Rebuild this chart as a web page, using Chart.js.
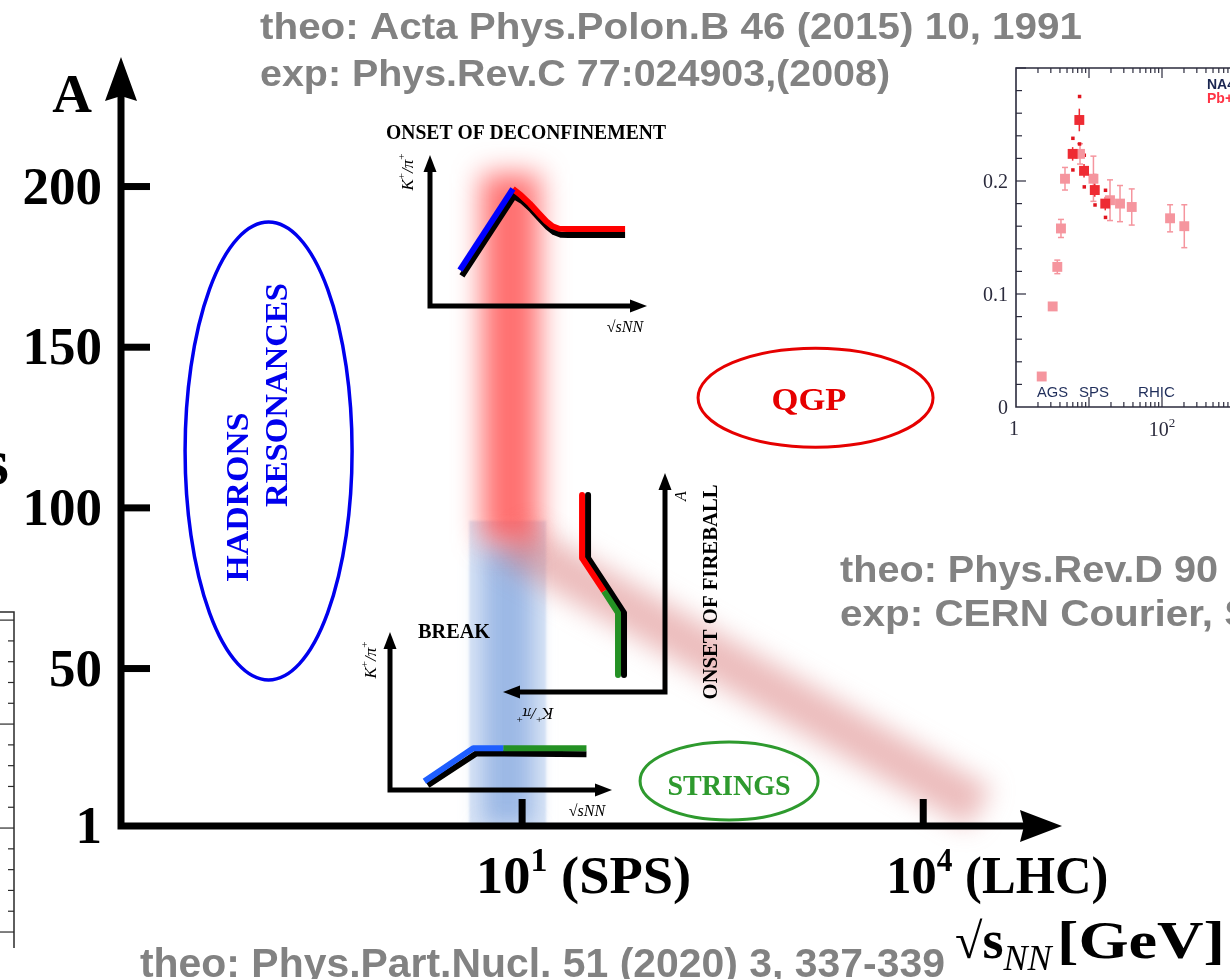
<!DOCTYPE html>
<html>
<head>
<meta charset="utf-8">
<script src="https://cdn.jsdelivr.net/npm/chart.js@4/dist/chart.umd.min.js"></script>
<style>
html, body { margin: 0; padding: 0; background: #fff; overflow: hidden; width: 1230px; height: 979px; }
body { position: relative; }
canvas { position: absolute; display: block; }
</style>
</head>
<body>
<canvas id="main" width="1230" height="979" style="left:0;top:0"></canvas>
<canvas id="edge"></canvas>
<canvas id="kpi"></canvas>
<canvas id="deconf"></canvas>
<canvas id="brk"></canvas>
<canvas id="fire"></canvas>
<script>
// ---- main diagram: A vs sqrt(s_NN) ----
var yTickValues = [1, 50, 100, 150, 200];
var xTickValues = [10, 10000];
var xTickExps = ['1', '4'];
var xTickNames = ['(SPS)', '(LHC)'];

// blurred bands (energy in GeV, mass number A)
var redBandE = [8.2, 8.2];
var redBandA = [89, 204];
var blueBandE = [7.8, 7.8];
var blueBandA = [1, 96];
var blueCoreA = [1, 88];
var fireballE = [8.1, 26600];
var fireballA = [90, 6.6];

// phase regions (centres)
var regionE = [0.127, 1565, 353];
var regionA = [117.7, 134.3, 15];

// ---- schematic insets (arbitrary units 0..10) ----
var deconfBlueX = [1.38, 3.82];
var deconfBlueY = [2.38, 7.75];
var deconfRedX = [3.82, 4.2, 4.6, 5.0, 5.35, 5.65, 5.95, 6.3, 8.99];
var deconfRedY = [7.75, 7.32, 6.78, 6.15, 5.62, 5.28, 5.12, 5.10, 5.10];
var deconfShadowX = [1.47, 3.87, 4.28, 4.68, 5.08, 5.43, 5.73, 6.03, 6.38, 8.99];
var deconfShadowY = [1.99, 7.28, 6.92, 6.38, 5.75, 5.22, 4.88, 4.72, 4.70, 4.70];

var breakBlueX = [1.55, 3.75, 5.1];
var breakBlueY = [0.55, 2.65, 2.65];
var breakGreenX = [5.1, 8.85];
var breakGreenY = [2.65, 2.65];
var breakShadowX = [1.7, 3.9, 8.85];
var breakShadowY = [0.3, 2.32, 2.27];

var fireRedX = [5.12, 5.12, 3.77];
var fireRedY = [9.0, 6.12, 4.61];
var fireGreenX = [3.77, 2.9, 2.9];
var fireGreenY = [4.61, 3.61, 0.78];
var fireShadowX = [4.75, 4.75, 3.4, 2.53, 2.53];
var fireShadowY = [9.0, 6.12, 4.61, 3.61, 0.78];

// ---- K+/pi+ data inset ----
var otherE = [2.25, 3.18, 3.68, 4.13, 4.69, 7.53, 11.5, 19.4, 26.6, 38.5, 129, 202];
var otherK = [0.027, 0.089, 0.124, 0.158, 0.202, 0.224, 0.202, 0.183, 0.180, 0.177, 0.167, 0.160];
var otherErr = [0, 0, 0.006, 0.008, 0.010, 0.009, 0.020, 0.018, 0.016, 0.016, 0.012, 0.019];
var na49E = [5.97, 7.37, 8.55, 12.0, 16.7];
var na49K = [0.224, 0.254, 0.209, 0.192, 0.180];
var na49Stat = [0.006, 0.010, 0.006, 0.006, 0.006];
var na49Sys = [0.014, 0.021, 0.014, 0.013, 0.012];
var kpiYLabels = [0, 0.1, 0.2];

var B = function (s) { return 'bold ' + s + 'px "Liberation Serif"'; };
var I = function (s) { return 'italic ' + s + 'px "Liberation Serif"'; };
var R = function (s) { return s + 'px "Liberation Serif"'; };
var GREY = 'bold 36px "Liberation Sans"';

function xy(xs, ys) {
	return xs.map(function (x, i) { return {x: x, y: ys[i]}; });
}

function line(ctx, x1, y1, x2, y2) {
	ctx.beginPath();
	ctx.moveTo(x1, y1);
	ctx.lineTo(x2, y2);
	ctx.stroke();
}

// draw a list of text pieces one after the other
function runs(ctx, parts, x, y, o) {
	o = o || {};
	ctx.save();
	ctx.translate(x, y);
	if (o.rot) ctx.rotate(o.rot);
	var total = 0;
	parts.forEach(function (p) {
		ctx.font = p.font;
		p.w = ctx.measureText(p.t).width;
		total += p.w;
	});
	var fit = o.fitWidth || total;
	if (o.width) ctx.scale(o.width / fit, 1);
	var start = o.align === 'center' ? -total / 2 : (o.align === 'right' ? -total : 0);
	ctx.textAlign = 'left';
	ctx.textBaseline = o.base || 'alphabetic';
	parts.forEach(function (p) {
		ctx.font = p.font;
		ctx.fillStyle = p.color || o.color || '#000';
		ctx.fillText(p.t, start, p.dy || 0);
		start += p.w;
	});
	ctx.restore();
}

function text(ctx, s, font, x, y, o) {
	runs(ctx, [{t: s, font: font}], x, y, o);
}

function kpiRuns(size, italic) {
	var f = italic ? I(size) : R(size);
	var s = R(Math.round(size * 0.65));
	var up = -size * 0.4;
	return [{t: 'K', font: f}, {t: '+', font: s, dy: up}, {t: '/π', font: f}, {t: '+', font: s, dy: up}];
}

function sqrtRuns(size) {
	return [{t: '√', font: R(size)}, {t: 'sNN', font: I(size)}];
}

var blurPlugin = {
	id: 'blurBands',
	beforeDatasetDraw: function (chart, args) {
		var b = chart.data.datasets[args.index].blur;
		if (b) {
			chart.ctx.save();
			chart.ctx.filter = 'blur(' + b + 'px)';
		}
	},
	afterDatasetDraw: function (chart, args) {
		if (chart.data.datasets[args.index].blur) chart.ctx.restore();
	}
};

var regionStyle = [
	{rx: 83.5, ry: 229, color: '#0000ee', lw: 3.5},
	{rx: 117.5, ry: 49.5, color: '#e60000', lw: 3},
	{rx: 89, ry: 39, color: '#2e9a2e', lw: 3}
];

var mainAxes = {
	id: 'mainAxes',
	afterDatasetsDraw: function (chart) {
		var ctx = chart.ctx, a = chart.chartArea, xs = chart.scales.x, ys = chart.scales.y;
		ctx.save();
		ctx.fillStyle = '#000';
		ctx.strokeStyle = '#000';
		ctx.lineWidth = 7;
		ctx.lineJoin = 'miter';
		ctx.beginPath();
		ctx.moveTo(a.left, a.top + 38);
		ctx.lineTo(a.left, a.bottom);
		ctx.lineTo(a.right - 36, a.bottom);
		ctx.stroke();
		// arrow heads
		ctx.beginPath();
		ctx.moveTo(a.left, a.top - 1);
		ctx.lineTo(a.left - 16, a.top + 43);
		ctx.lineTo(a.left, a.top + 38);
		ctx.lineTo(a.left + 16, a.top + 43);
		ctx.closePath();
		ctx.fill();
		ctx.beginPath();
		ctx.moveTo(a.right + 2, a.bottom);
		ctx.lineTo(a.right - 40, a.bottom - 16);
		ctx.lineTo(a.right - 36, a.bottom);
		ctx.lineTo(a.right - 40, a.bottom + 16);
		ctx.closePath();
		ctx.fill();

		// ticks and tick labels
		yTickValues.forEach(function (v) {
			var py = ys.getPixelForValue(v);
			if (v !== 1) ctx.fillRect(a.left, py - 3.5, 29, 7);
			text(ctx, String(v), B(53), a.left - 19, py + 17, {align: 'right'});
		});
		var shift = [-46, -37], widths = [215, 222];
		xTickValues.forEach(function (v, i) {
			var px = xs.getPixelForValue(v);
			ctx.fillRect(px - 3.5, a.bottom - 27, 7, 27);
			runs(ctx, [{t: '10', font: B(53)}, {t: xTickExps[i], font: B(33), dy: -22}, {t: ' ' + xTickNames[i], font: B(53)}],
				px + shift[i], a.bottom + 67, {width: widths[i]});
		});

		// axis titles
		text(ctx, 'A', B(55), a.left - 49, a.top + 54, {align: 'center'});
		runs(ctx, [{t: '√', font: B(50)}, {t: 's', font: B(54)}, {t: 'NN', font: I(36), dy: 12}], 955, 958);
		text(ctx, '[GeV]', B(52), 1057, 958, {width: 168});

		// phase regions
		regionE.forEach(function (e, i) {
			var st = regionStyle[i];
			ctx.beginPath();
			ctx.ellipse(xs.getPixelForValue(e), ys.getPixelForValue(regionA[i]), st.rx, st.ry, 0, 0, Math.PI * 2);
			ctx.lineWidth = st.lw;
			ctx.strokeStyle = st.color;
			ctx.stroke();
		});
		text(ctx, 'HADRONS', B(32), 240, 497, {align: 'center', rot: -Math.PI / 2, base: 'middle', width: 169, color: '#0000ee'});
		text(ctx, 'RESONANCES', B(32), 279, 395, {align: 'center', rot: -Math.PI / 2, base: 'middle', width: 224, color: '#0000ee'});
		text(ctx, 'QGP', B(32), 809, 410, {align: 'center', width: 75, color: '#e60000'});
		text(ctx, 'STRINGS', B(30), 729, 795, {align: 'center', width: 123, color: '#2e9a2e'});

		// references
		text(ctx, 'theo: Acta Phys.Polon.B 46 (2015) 10, 1991', GREY, 260, 39, {width: 822, color: '#828282'});
		text(ctx, 'exp: Phys.Rev.C 77:024903,(2008)', GREY, 260, 86, {width: 630, color: '#828282'});
		text(ctx, 'theo: Phys.Rev.D 90', GREY, 840, 582, {width: 378, color: '#828282'});
		ctx.font = GREY;
		var w4 = ctx.measureText('exp: CERN Courier,').width;
		text(ctx, 'exp: CERN Courier, S', GREY, 840, 626, {width: 373, fitWidth: w4, color: '#828282'});
		text(ctx, 'theo: Phys.Part.Nucl. 51 (2020) 3, 337-339', 'bold 40px "Liberation Sans"', 140, 977, {width: 805, color: '#828282'});

		// clipped letter from the neighbouring panel
		text(ctx, 's', B(66), 9, 484, {align: 'right'});
		ctx.restore();
	}
};

new Chart(document.getElementById('main'), {
	type: 'line',
	data: {
		datasets: [
			{data: xy(redBandE, redBandA), borderColor: 'rgba(255,70,70,0.78)', borderWidth: 58, blur: 14, clip: false},
			{data: xy(fireballE, fireballA), borderColor: 'rgba(215,115,115,0.48)', borderWidth: 46, blur: 13, clip: false},
			{data: xy(blueBandE, blueCoreA), borderColor: 'rgba(115,155,218,0.6)', borderWidth: 50, blur: 11, clip: 0},
			{data: xy(blueBandE, blueBandA), borderColor: 'rgba(214,226,245,0.9)', borderWidth: 77, blur: 1, clip: 0}
		]
	},
	options: {
		responsive: false,
		animation: false,
		events: [],
		layout: {padding: {left: 121, right: 170, top: 58, bottom: 153}},
		plugins: {legend: {display: false}, tooltip: {enabled: false}},
		elements: {point: {radius: 0}, line: {borderCapStyle: 'butt', tension: 0, fill: false}},
		scales: {
			x: {type: 'logarithmic', min: 0.01, max: 105400, display: false},
			y: {type: 'linear', min: 1, max: 240, display: false}
		}
	},
	plugins: [blurPlugin, mainAxes]
});

// ---- partial frame of the neighbouring panel at the left edge ----
var edgeFrame = {
	id: 'edgeFrame',
	afterDraw: function (chart) {
		var ctx = chart.ctx, a = chart.chartArea, ys = chart.scales.y;
		ctx.save();
		ctx.strokeStyle = '#2a2a2a';
		ctx.lineWidth = 1.5;
		ctx.beginPath();
		ctx.moveTo(0, a.top);
		ctx.lineTo(a.right, a.top);
		ctx.lineTo(a.right, a.bottom + 6);
		ctx.stroke();
		ctx.lineWidth = 1.2;
		for (var v = 0; v <= 15; v++) {
			var py = ys.getPixelForValue(v);
			line(ctx, a.right, py, a.right - (v % 5 === 0 ? 14 : 6), py);
		}
		ctx.restore();
	}
};
(function () {
	var cv = document.getElementById('edge');
	cv.width = 40; cv.height = 360;
	cv.style.left = '0px'; cv.style.top = '600px';
	new Chart(cv, {
		type: 'scatter',
		data: {datasets: []},
		options: {
			responsive: false, animation: false, events: [],
			layout: {padding: {left: 0, right: 26, top: 12, bottom: 18}},
			plugins: {legend: {display: false}, tooltip: {enabled: false}},
			scales: {x: {min: 0, max: 1, display: false}, y: {min: -0.48, max: 15.39, display: false}}
		},
		plugins: [edgeFrame]
	});
})();

// ---- schematic insets ----
var insetCfg = {};

var arrowAxes = {
	id: 'arrowAxes',
	beforeDatasetsDraw: function (chart) {
		var cfg = insetCfg[chart.canvas.id];
		var ctx = chart.ctx, a = chart.chartArea;
		var ax = cfg.yRight ? a.right : a.left;
		var tipX = cfg.yRight ? a.left : a.right;
		var dir = cfg.yRight ? -1 : 1;
		ctx.save();
		ctx.strokeStyle = '#000';
		ctx.fillStyle = '#000';
		ctx.lineWidth = 5;
		ctx.lineJoin = 'miter';
		ctx.beginPath();
		ctx.moveTo(ax, a.top + 14);
		ctx.lineTo(ax, a.bottom);
		ctx.lineTo(tipX - dir * 14, a.bottom);
		ctx.stroke();
		ctx.beginPath();
		ctx.moveTo(ax, a.top);
		ctx.lineTo(ax - 6.5, a.top + 17);
		ctx.lineTo(ax + 6.5, a.top + 17);
		ctx.closePath();
		ctx.fill();
		ctx.beginPath();
		ctx.moveTo(tipX, a.bottom);
		ctx.lineTo(tipX - dir * 17, a.bottom - 6.5);
		ctx.lineTo(tipX - dir * 17, a.bottom + 6.5);
		ctx.closePath();
		ctx.fill();
		ctx.restore();
	},
	afterDraw: function (chart) {
		var cfg = insetCfg[chart.canvas.id];
		var ctx = chart.ctx;
		ctx.save();
		ctx.translate(-cfg.box.x, -cfg.box.y);
		cfg.labels(ctx);
		ctx.restore();
	}
};

function inset(id, box, area, reverse, sets) {
	var cv = document.getElementById(id);
	cv.width = box.w; cv.height = box.h;
	cv.style.left = box.x + 'px'; cv.style.top = box.y + 'px';
	return new Chart(cv, {
		type: 'line',
		data: {datasets: sets},
		options: {
			responsive: false, animation: false, events: [],
			layout: {padding: {left: area.l - box.x, right: box.x + box.w - area.r, top: area.t - box.y, bottom: box.y + box.h - area.b}},
			plugins: {legend: {display: false}, tooltip: {enabled: false}},
			elements: {point: {radius: 0}, line: {borderWidth: 6, borderCapStyle: 'butt', borderJoinStyle: 'round', tension: 0, fill: false}},
			scales: {
				x: {type: 'linear', min: 0, max: 10, reverse: reverse, display: false},
				y: {type: 'linear', min: 0, max: 10, display: false}
			}
		},
		plugins: [arrowAxes]
	});
}

insetCfg.deconf = {
	yRight: false, box: {x: 380, y: 115, w: 290, h: 230},
	labels: function (ctx) {
		text(ctx, 'ONSET OF DECONFINEMENT', B(20), 386, 139, {width: 280});
		runs(ctx, kpiRuns(17, true), 409, 172, {align: 'center', rot: -Math.PI / 2, base: 'middle'});
		runs(ctx, sqrtRuns(16), 625, 332, {align: 'center'});
	}
};
inset('deconf', insetCfg.deconf.box, {l: 430, r: 647, t: 155, b: 306}, false, [
	{data: xy(deconfBlueX, deconfBlueY), borderColor: '#0000ff'},
	{data: xy(deconfRedX, deconfRedY), borderColor: '#ff0000'},
	{data: xy(deconfShadowX, deconfShadowY), borderColor: '#000'}
]);

insetCfg.brk = {
	yRight: false, box: {x: 355, y: 615, w: 270, h: 212},
	labels: function (ctx) {
		text(ctx, 'BREAK', B(20), 418, 638, {width: 72});
		runs(ctx, kpiRuns(17, true), 372, 660, {align: 'center', rot: -Math.PI / 2, base: 'middle'});
		runs(ctx, sqrtRuns(16), 587, 816, {align: 'center'});
	}
};
inset('brk', insetCfg.brk.box, {l: 390, r: 612, t: 632, b: 790}, false, [
	{data: xy(breakBlueX, breakBlueY), borderColor: '#1e5eff'},
	{data: xy(breakGreenX, breakGreenY), borderColor: '#249124'},
	{data: xy(breakShadowX, breakShadowY), borderColor: '#000'}
]);

insetCfg.fire = {
	yRight: true, box: {x: 495, y: 465, w: 235, h: 262},
	labels: function (ctx) {
		text(ctx, 'ONSET OF FIREBALL', B(20), 712, 592, {align: 'center', rot: -Math.PI / 2, base: 'middle', width: 215});
		text(ctx, 'A', I(16), 682, 496, {align: 'center', rot: -Math.PI / 2, base: 'middle'});
		runs(ctx, kpiRuns(17, true), 535, 712, {align: 'center', rot: Math.PI, base: 'middle'});
	}
};
inset('fire', insetCfg.fire.box, {l: 503, r: 665, t: 473, b: 692}, true, [
	{data: xy(fireRedX, fireRedY), borderColor: '#ff0000'},
	{data: xy(fireGreenX, fireGreenY), borderColor: '#249124'},
	{data: xy(fireShadowX, fireShadowY), borderColor: '#000'}
]);

// ---- K+/pi+ data inset ----
var kpiFrame = {
	id: 'kpiFrame',
	beforeDatasetsDraw: function (chart) {
		var ctx = chart.ctx, a = chart.chartArea, xs = chart.scales.x, ys = chart.scales.y;
		var ink = '#2b2b3d';
		ctx.save();
		ctx.strokeStyle = ink;
		ctx.lineWidth = 1.6;
		ctx.beginPath();
		ctx.moveTo(a.right + 15, a.top);
		ctx.lineTo(a.left, a.top);
		ctx.lineTo(a.left, a.bottom);
		ctx.lineTo(a.right + 15, a.bottom);
		ctx.stroke();
		ctx.lineWidth = 1.2;
		for (var d = 0; d < 4; d++) {
			for (var k = 1; k <= 9; k++) {
				var v = k * Math.pow(10, d);
				if (v === 1) continue;
				var px = xs.getPixelForValue(v);
				var len = k === 1 ? 10 : 5;
				line(ctx, px, a.bottom, px, a.bottom - len);
				line(ctx, px, a.top, px, a.top + len);
			}
		}
		for (var i = 1; i <= 15; i++) {
			var py = ys.getPixelForValue(i * 0.02);
			line(ctx, a.left, py, a.left + (i % 5 === 0 ? 10 : 6), py);
		}
		kpiYLabels.forEach(function (v) {
			text(ctx, String(v), R(20), a.left - 8, ys.getPixelForValue(v) + 7, {align: 'right', color: ink});
		});
		text(ctx, '1', R(20), xs.getPixelForValue(1) - 2, a.bottom + 28, {align: 'center', color: ink});
		runs(ctx, [{t: '10', font: R(20)}, {t: '2', font: R(13), dy: -9}], xs.getPixelForValue(100), a.bottom + 29, {align: 'center', color: ink});
		runs(ctx, kpiRuns(16, false).concat([{t: ' (y≈0)', font: R(16)}]), 957, 117 - 55, {align: 'center', rot: -Math.PI / 2, base: 'middle', width: 100, color: ink});
		text(ctx, 'AGS', '15px "Liberation Sans"', 1037 - 940, 397 - 55, {width: 31, color: '#1f2d5a'});
		text(ctx, 'SPS', '15px "Liberation Sans"', 1079 - 940, 397 - 55, {width: 30, color: '#1f2d5a'});
		text(ctx, 'RHIC', '15px "Liberation Sans"', 1138 - 940, 397 - 55, {width: 37, color: '#1f2d5a'});
		text(ctx, 'NA49', 'bold 14px "Liberation Sans"', 1207 - 940, 89 - 55, {color: '#1a2550'});
		text(ctx, 'Pb+Pb', 'bold 14px "Liberation Sans"', 1207 - 940, 103 - 55, {color: '#ff3344'});

		// error bars behind the markers
		ctx.lineWidth = 1.5;
		ctx.strokeStyle = '#f5959e';
		otherE.forEach(function (e, j) {
			if (!otherErr[j]) return;
			var x = xs.getPixelForValue(e);
			var y1 = ys.getPixelForValue(otherK[j] - otherErr[j]), y2 = ys.getPixelForValue(otherK[j] + otherErr[j]);
			line(ctx, x, y1, x, y2);
			line(ctx, x - 3, y1, x + 3, y1);
			line(ctx, x - 3, y2, x + 3, y2);
		});
		ctx.strokeStyle = '#ee2b33';
		ctx.fillStyle = '#e0141e';
		na49E.forEach(function (e, j) {
			var x = xs.getPixelForValue(e);
			var y1 = ys.getPixelForValue(na49K[j] - na49Stat[j]), y2 = ys.getPixelForValue(na49K[j] + na49Stat[j]);
			line(ctx, x, y1, x, y2);
			[na49K[j] - na49Sys[j], na49K[j] + na49Sys[j]].forEach(function (s) {
				ctx.fillRect(x - 1.5, ys.getPixelForValue(s) - 1.5, 3.5, 3.5);
			});
		});
		ctx.restore();
	}
};
(function () {
	var cv = document.getElementById('kpi');
	cv.width = 385; cv.height = 395;
	cv.style.left = '940px'; cv.style.top = '55px';
	new Chart(cv, {
		type: 'scatter',
		data: {
			datasets: [
				{data: xy(na49E, na49K), pointStyle: 'rect', pointRadius: 7, backgroundColor: '#ee2b33', borderWidth: 0},
				{data: xy(otherE, otherK), pointStyle: 'rect', pointRadius: 7, backgroundColor: '#f5959e', borderWidth: 0}
			]
		},
		options: {
			responsive: false, animation: false, events: [],
			layout: {padding: {left: 76, right: 17, top: 13, bottom: 43}},
			plugins: {legend: {display: false}, tooltip: {enabled: false}},
			scales: {
				x: {type: 'logarithmic', min: 1, max: 10000, display: false},
				y: {type: 'linear', min: 0, max: 0.3, display: false}
			}
		},
		plugins: [kpiFrame]
	});
})();
</script>
</body>
</html>
